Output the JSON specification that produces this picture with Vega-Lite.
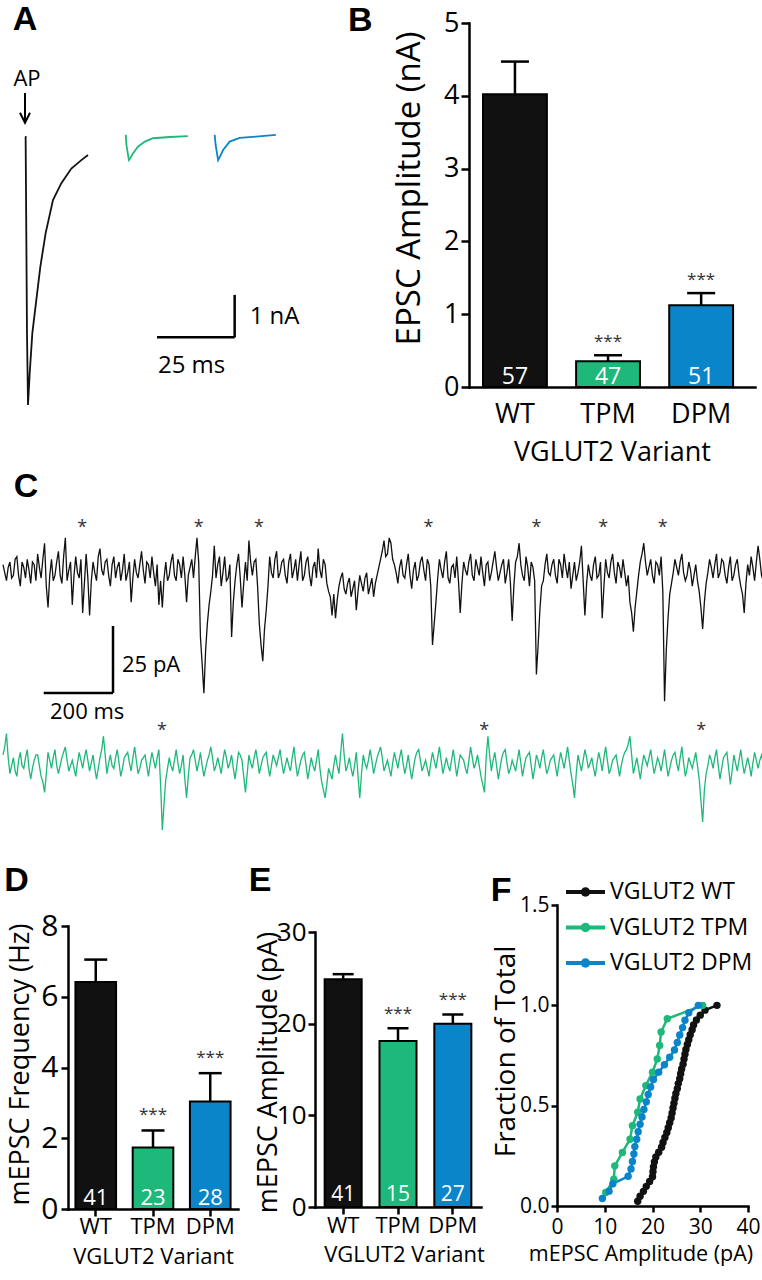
{
"$schema":"https://vega.github.io/schema/vega-lite/v6.json",
"width":762,"height":1280,"padding":0,"background":"white",
"config":{"view":{"stroke":null},"axis":{"grid":false,"domainColor":"black","tickColor":"black","labelColor":"black","titleColor":"black","labelFont":"Open Sans","titleFont":"Open Sans","titleFontWeight":"normal","domainWidth":2.5,"tickWidth":2.5,"domainCap":"square"},"text":{"font":"Open Sans","color":"black"}},
"datasets":{
"epsc":[
{"cell":"WT","t":0,"i":0},{"cell":"WT","t":0.2,"i":0},{"cell":"WT","t":0.42,"i":-2.29},{"cell":"WT","t":0.64,"i":-4.67},{"cell":"WT","t":0.96,"i":-6.38},{"cell":"WT","t":1.5,"i":-5.63},{"cell":"WT","t":2.35,"i":-4.67},{"cell":"WT","t":3.63,"i":-3.88},{"cell":"WT","t":4.91,"i":-3.09},{"cell":"WT","t":6.62,"i":-2.29},{"cell":"WT","t":8.97,"i":-1.5},{"cell":"WT","t":11.65,"i":-1.1},{"cell":"WT","t":14.85,"i":-0.75},{"cell":"WT","t":18.06,"i":-0.55},{"cell":"WT","t":20.19,"i":-0.43},
{"cell":"TPM","t":32.3,"i":0.05},{"cell":"TPM","t":32.5,"i":-0.19},{"cell":"TPM","t":33.3,"i":-0.55},{"cell":"TPM","t":33.8,"i":-0.5},{"cell":"TPM","t":34.6,"i":-0.39},{"cell":"TPM","t":36.2,"i":-0.23},{"cell":"TPM","t":38.4,"i":-0.11},{"cell":"TPM","t":41.0,"i":-0.03},{"cell":"TPM","t":46.4,"i":0.0},{"cell":"TPM","t":52.2,"i":0.02},
{"cell":"DPM","t":60.8,"i":0.05},{"cell":"DPM","t":61.1,"i":-0.19},{"cell":"DPM","t":61.9,"i":-0.55},{"cell":"DPM","t":62.4,"i":-0.48},{"cell":"DPM","t":63.5,"i":-0.31},{"cell":"DPM","t":65.6,"i":-0.11},{"cell":"DPM","t":68.8,"i":-0.02},{"cell":"DPM","t":74.0,"i":0.01},{"cell":"DPM","t":80.4,"i":0.05}
],
"evoked":[
{"variant":"WT","mean":4.02,"hi":4.47,"n":"57","sig":""},
{"variant":"TPM","mean":0.355,"hi":0.436,"n":"47","sig":"***"},
{"variant":"DPM","mean":1.124,"hi":1.29,"n":"51","sig":"***"}
],
"freq":[
{"variant":"WT","mean":6.42,"hi":7.05,"n":"41","sig":""},
{"variant":"TPM","mean":1.74,"hi":2.22,"n":"23","sig":"***"},
{"variant":"DPM","mean":3.04,"hi":3.84,"n":"28","sig":"***"}
],
"amp":[
{"variant":"WT","mean":24.85,"hi":25.4,"n":"41","sig":""},
{"variant":"TPM","mean":18.1,"hi":19.5,"n":"15","sig":"***"},
{"variant":"DPM","mean":20.0,"hi":21.0,"n":"27","sig":"***"}
],
"stars":[
{"cell":"WT","t":229},{"cell":"WT","t":565},{"cell":"WT","t":739},{"cell":"WT","t":1228},{"cell":"WT","t":1540},{"cell":"WT","t":1733},{"cell":"WT","t":1905},
{"cell":"TPM","t":459},{"cell":"TPM","t":1389},{"cell":"TPM","t":2016}
],
"keys":[
{"g":"WT","label":"VGLUT2 WT"},{"g":"TPM","label":"VGLUT2 TPM"},{"g":"DPM","label":"VGLUT2 DPM"}
],
"cum":[
{"g":"WT","amp":16.9,"frac":0.024},{"g":"WT","amp":17.4,"frac":0.049},{"g":"WT","amp":18.1,"frac":0.073},{"g":"WT","amp":18.7,"frac":0.098},{"g":"WT","amp":19.4,"frac":0.122},{"g":"WT","amp":20.0,"frac":0.146},{"g":"WT","amp":20.1,"frac":0.171},{"g":"WT","amp":20.2,"frac":0.195},{"g":"WT","amp":20.4,"frac":0.22},{"g":"WT","amp":20.7,"frac":0.244},{"g":"WT","amp":21.3,"frac":0.268},{"g":"WT","amp":21.9,"frac":0.293},{"g":"WT","amp":22.2,"frac":0.317},{"g":"WT","amp":22.6,"frac":0.341},{"g":"WT","amp":23.0,"frac":0.366},{"g":"WT","amp":23.3,"frac":0.39},{"g":"WT","amp":23.6,"frac":0.415},{"g":"WT","amp":23.9,"frac":0.439},{"g":"WT","amp":24.1,"frac":0.463},{"g":"WT","amp":24.3,"frac":0.488},{"g":"WT","amp":24.5,"frac":0.512},{"g":"WT","amp":24.7,"frac":0.537},{"g":"WT","amp":24.9,"frac":0.561},{"g":"WT","amp":25.2,"frac":0.585},{"g":"WT","amp":25.4,"frac":0.61},{"g":"WT","amp":25.7,"frac":0.634},{"g":"WT","amp":25.9,"frac":0.659},{"g":"WT","amp":26.1,"frac":0.683},{"g":"WT","amp":26.4,"frac":0.707},{"g":"WT","amp":26.6,"frac":0.732},{"g":"WT","amp":26.8,"frac":0.756},{"g":"WT","amp":27.0,"frac":0.78},{"g":"WT","amp":27.3,"frac":0.805},{"g":"WT","amp":27.6,"frac":0.829},{"g":"WT","amp":27.9,"frac":0.854},{"g":"WT","amp":28.3,"frac":0.878},{"g":"WT","amp":28.6,"frac":0.902},{"g":"WT","amp":29.2,"frac":0.927},{"g":"WT","amp":30.0,"frac":0.951},{"g":"WT","amp":31.0,"frac":0.976},{"g":"WT","amp":33.5,"frac":1.0},
{"g":"TPM","amp":10.2,"frac":0.067},{"g":"TPM","amp":11.9,"frac":0.133},{"g":"TPM","amp":12.1,"frac":0.2},{"g":"TPM","amp":13.7,"frac":0.267},{"g":"TPM","amp":15.3,"frac":0.333},{"g":"TPM","amp":15.8,"frac":0.4},{"g":"TPM","amp":16.9,"frac":0.467},{"g":"TPM","amp":17.4,"frac":0.533},{"g":"TPM","amp":18.6,"frac":0.6},{"g":"TPM","amp":20.0,"frac":0.667},{"g":"TPM","amp":21.0,"frac":0.733},{"g":"TPM","amp":21.5,"frac":0.8},{"g":"TPM","amp":21.8,"frac":0.867},{"g":"TPM","amp":23.1,"frac":0.933},{"g":"TPM","amp":30.5,"frac":1.0},
{"g":"DPM","amp":9.5,"frac":0.037},{"g":"DPM","amp":10.9,"frac":0.074},{"g":"DPM","amp":11.7,"frac":0.111},{"g":"DPM","amp":14.9,"frac":0.148},{"g":"DPM","amp":15.5,"frac":0.185},{"g":"DPM","amp":15.8,"frac":0.222},{"g":"DPM","amp":16.1,"frac":0.259},{"g":"DPM","amp":16.3,"frac":0.296},{"g":"DPM","amp":16.7,"frac":0.333},{"g":"DPM","amp":17.0,"frac":0.37},{"g":"DPM","amp":17.4,"frac":0.407},{"g":"DPM","amp":17.8,"frac":0.444},{"g":"DPM","amp":18.2,"frac":0.481},{"g":"DPM","amp":18.7,"frac":0.519},{"g":"DPM","amp":19.1,"frac":0.556},{"g":"DPM","amp":19.6,"frac":0.593},{"g":"DPM","amp":20.2,"frac":0.63},{"g":"DPM","amp":21.3,"frac":0.667},{"g":"DPM","amp":22.5,"frac":0.704},{"g":"DPM","amp":23.6,"frac":0.741},{"g":"DPM","amp":24.6,"frac":0.778},{"g":"DPM","amp":25.2,"frac":0.815},{"g":"DPM","amp":25.7,"frac":0.852},{"g":"DPM","amp":26.3,"frac":0.889},{"g":"DPM","amp":26.8,"frac":0.926},{"g":"DPM","amp":27.6,"frac":0.963},{"g":"DPM","amp":29.6,"frac":1.0}
],
"mini":[
{"cell":"WT","t":0,"v":2},{"cell":"WT","t":10,"v":-4},{"cell":"WT","t":20,"v":3},{"cell":"WT","t":30,"v":-2},{"cell":"WT","t":40,"v":5},{"cell":"WT","t":50,"v":-6},{"cell":"WT","t":60,"v":1},{"cell":"WT","t":70,"v":4},{"cell":"WT","t":80,"v":-5},{"cell":"WT","t":90,"v":2},
{"cell":"WT","t":100,"v":6},{"cell":"WT","t":110,"v":-3},{"cell":"WT","t":120,"v":10},{"cell":"WT","t":130,"v":-14},{"cell":"WT","t":140,"v":4},{"cell":"WT","t":150,"v":-2},{"cell":"WT","t":160,"v":7},{"cell":"WT","t":170,"v":-5},{"cell":"WT","t":180,"v":12},{"cell":"WT","t":190,"v":0},
{"cell":"WT","t":200,"v":-13},{"cell":"WT","t":210,"v":5},{"cell":"WT","t":220,"v":-3},{"cell":"WT","t":230,"v":-16},{"cell":"WT","t":240,"v":6},{"cell":"WT","t":250,"v":-17},{"cell":"WT","t":260,"v":3},{"cell":"WT","t":270,"v":-4},{"cell":"WT","t":280,"v":8},{"cell":"WT","t":290,"v":-2},
{"cell":"WT","t":300,"v":4},{"cell":"WT","t":310,"v":-6},{"cell":"WT","t":320,"v":5},{"cell":"WT","t":330,"v":1},{"cell":"WT","t":340,"v":-4},{"cell":"WT","t":350,"v":6},{"cell":"WT","t":360,"v":-1},{"cell":"WT","t":370,"v":-12},{"cell":"WT","t":380,"v":4},{"cell":"WT","t":390,"v":-3},
{"cell":"WT","t":400,"v":7},{"cell":"WT","t":410,"v":-5},{"cell":"WT","t":420,"v":2},{"cell":"WT","t":430,"v":5},{"cell":"WT","t":440,"v":-6},{"cell":"WT","t":450,"v":-13},{"cell":"WT","t":460,"v":-14},{"cell":"WT","t":470,"v":3},{"cell":"WT","t":480,"v":-2},{"cell":"WT","t":490,"v":6},
{"cell":"WT","t":500,"v":-4},{"cell":"WT","t":510,"v":2},{"cell":"WT","t":520,"v":5},{"cell":"WT","t":530,"v":-12},{"cell":"WT","t":540,"v":1},{"cell":"WT","t":550,"v":-3},{"cell":"WT","t":560,"v":12},{"cell":"WT","t":570,"v":-25},{"cell":"WT","t":580,"v":-46},{"cell":"WT","t":590,"v":-20},
{"cell":"WT","t":600,"v":-8},{"cell":"WT","t":610,"v":9},{"cell":"WT","t":620,"v":2},{"cell":"WT","t":630,"v":-6},{"cell":"WT","t":640,"v":5},{"cell":"WT","t":650,"v":-3},{"cell":"WT","t":660,"v":-25},{"cell":"WT","t":670,"v":-4},{"cell":"WT","t":680,"v":6},{"cell":"WT","t":690,"v":-14},
{"cell":"WT","t":700,"v":3},{"cell":"WT","t":710,"v":11},{"cell":"WT","t":720,"v":-2},{"cell":"WT","t":730,"v":4},{"cell":"WT","t":740,"v":-20},{"cell":"WT","t":750,"v":-34},{"cell":"WT","t":760,"v":-15},{"cell":"WT","t":770,"v":5},{"cell":"WT","t":780,"v":-3},{"cell":"WT","t":790,"v":7},
{"cell":"WT","t":800,"v":-1},{"cell":"WT","t":810,"v":4},{"cell":"WT","t":820,"v":-5},{"cell":"WT","t":830,"v":6},{"cell":"WT","t":840,"v":0},{"cell":"WT","t":850,"v":-4},{"cell":"WT","t":860,"v":7},{"cell":"WT","t":870,"v":-2},{"cell":"WT","t":880,"v":5},{"cell":"WT","t":890,"v":-6},
{"cell":"WT","t":900,"v":3},{"cell":"WT","t":910,"v":8},{"cell":"WT","t":920,"v":-3},{"cell":"WT","t":930,"v":2},{"cell":"WT","t":940,"v":-8},{"cell":"WT","t":950,"v":-17},{"cell":"WT","t":960,"v":-18},{"cell":"WT","t":970,"v":-6},{"cell":"WT","t":980,"v":-1},{"cell":"WT","t":990,"v":-9},
{"cell":"WT","t":1000,"v":-3},{"cell":"WT","t":1010,"v":-7},{"cell":"WT","t":1020,"v":-15},{"cell":"WT","t":1030,"v":-2},{"cell":"WT","t":1040,"v":-8},{"cell":"WT","t":1050,"v":-1},{"cell":"WT","t":1060,"v":-6},{"cell":"WT","t":1070,"v":-10},{"cell":"WT","t":1080,"v":-2},{"cell":"WT","t":1090,"v":4},
{"cell":"WT","t":1100,"v":11},{"cell":"WT","t":1110,"v":6},{"cell":"WT","t":1120,"v":10},{"cell":"WT","t":1130,"v":2},{"cell":"WT","t":1140,"v":-5},{"cell":"WT","t":1150,"v":4},{"cell":"WT","t":1160,"v":-3},{"cell":"WT","t":1170,"v":6},{"cell":"WT","t":1180,"v":-7},{"cell":"WT","t":1190,"v":3},
{"cell":"WT","t":1200,"v":-2},{"cell":"WT","t":1210,"v":5},{"cell":"WT","t":1220,"v":-4},{"cell":"WT","t":1230,"v":2},{"cell":"WT","t":1240,"v":-28},{"cell":"WT","t":1250,"v":-12},{"cell":"WT","t":1260,"v":4},{"cell":"WT","t":1270,"v":-3},{"cell":"WT","t":1280,"v":7},{"cell":"WT","t":1290,"v":-5},
{"cell":"WT","t":1300,"v":2},{"cell":"WT","t":1310,"v":5},{"cell":"WT","t":1320,"v":-16},{"cell":"WT","t":1330,"v":3},{"cell":"WT","t":1340,"v":-2},{"cell":"WT","t":1350,"v":6},{"cell":"WT","t":1360,"v":-4},{"cell":"WT","t":1370,"v":1},{"cell":"WT","t":1380,"v":5},{"cell":"WT","t":1390,"v":-6},
{"cell":"WT","t":1400,"v":3},{"cell":"WT","t":1410,"v":-1},{"cell":"WT","t":1420,"v":7},{"cell":"WT","t":1430,"v":-4},{"cell":"WT","t":1440,"v":2},{"cell":"WT","t":1450,"v":-5},{"cell":"WT","t":1460,"v":4},{"cell":"WT","t":1470,"v":-19},{"cell":"WT","t":1480,"v":3},{"cell":"WT","t":1490,"v":10},
{"cell":"WT","t":1500,"v":-2},{"cell":"WT","t":1510,"v":5},{"cell":"WT","t":1520,"v":-6},{"cell":"WT","t":1530,"v":1},{"cell":"WT","t":1540,"v":-39},{"cell":"WT","t":1550,"v":-15},{"cell":"WT","t":1560,"v":-4},{"cell":"WT","t":1570,"v":6},{"cell":"WT","t":1580,"v":-2},{"cell":"WT","t":1590,"v":4},
{"cell":"WT","t":1600,"v":-5},{"cell":"WT","t":1610,"v":2},{"cell":"WT","t":1620,"v":6},{"cell":"WT","t":1630,"v":-3},{"cell":"WT","t":1640,"v":-7},{"cell":"WT","t":1650,"v":3},{"cell":"WT","t":1660,"v":-1},{"cell":"WT","t":1670,"v":9},{"cell":"WT","t":1680,"v":-17},{"cell":"WT","t":1690,"v":2},
{"cell":"WT","t":1700,"v":-4},{"cell":"WT","t":1710,"v":5},{"cell":"WT","t":1720,"v":-2},{"cell":"WT","t":1730,"v":-18},{"cell":"WT","t":1740,"v":4},{"cell":"WT","t":1750,"v":-3},{"cell":"WT","t":1760,"v":6},{"cell":"WT","t":1770,"v":-5},{"cell":"WT","t":1780,"v":1},{"cell":"WT","t":1790,"v":4},
{"cell":"WT","t":1800,"v":-6},{"cell":"WT","t":1810,"v":-12},{"cell":"WT","t":1820,"v":-23},{"cell":"WT","t":1830,"v":-8},{"cell":"WT","t":1840,"v":3},{"cell":"WT","t":1850,"v":10},{"cell":"WT","t":1860,"v":-2},{"cell":"WT","t":1870,"v":4},{"cell":"WT","t":1880,"v":-5},{"cell":"WT","t":1890,"v":2},
{"cell":"WT","t":1900,"v":5},{"cell":"WT","t":1910,"v":-49},{"cell":"WT","t":1920,"v":-18},{"cell":"WT","t":1930,"v":-5},{"cell":"WT","t":1940,"v":4},{"cell":"WT","t":1950,"v":-2},{"cell":"WT","t":1960,"v":6},{"cell":"WT","t":1970,"v":-4},{"cell":"WT","t":1980,"v":3},{"cell":"WT","t":1990,"v":-6},
{"cell":"WT","t":2000,"v":2},{"cell":"WT","t":2010,"v":-8},{"cell":"WT","t":2020,"v":-22},{"cell":"WT","t":2030,"v":-5},{"cell":"WT","t":2040,"v":4},{"cell":"WT","t":2050,"v":-3},{"cell":"WT","t":2060,"v":6},{"cell":"WT","t":2070,"v":-1},{"cell":"WT","t":2080,"v":3},{"cell":"WT","t":2090,"v":-5},
{"cell":"WT","t":2100,"v":5},{"cell":"WT","t":2110,"v":-2},{"cell":"WT","t":2120,"v":4},{"cell":"WT","t":2130,"v":-6},{"cell":"WT","t":2140,"v":-16},{"cell":"WT","t":2150,"v":2},{"cell":"WT","t":2160,"v":5},{"cell":"WT","t":2170,"v":-4},{"cell":"WT","t":2180,"v":9},{"cell":"WT","t":2190,"v":-2},{"cell":"WT","t":2200,"v":3},
{"cell":"WT","t":5,"v":-1},{"cell":"WT","t":15,"v":1},{"cell":"WT","t":25,"v":-3},{"cell":"WT","t":35,"v":4},{"cell":"WT","t":45,"v":-2},{"cell":"WT","t":55,"v":3},{"cell":"WT","t":65,"v":-3},{"cell":"WT","t":75,"v":0},{"cell":"WT","t":85,"v":3},{"cell":"WT","t":95,"v":-4},
{"cell":"WT","t":105,"v":1},{"cell":"WT","t":115,"v":4},{"cell":"WT","t":125,"v":-6},{"cell":"WT","t":135,"v":-2},{"cell":"WT","t":145,"v":-4},{"cell":"WT","t":155,"v":3},{"cell":"WT","t":165,"v":-2},{"cell":"WT","t":175,"v":5},{"cell":"WT","t":185,"v":-4},{"cell":"WT","t":195,"v":3},
{"cell":"WT","t":205,"v":-2},{"cell":"WT","t":215,"v":-1},{"cell":"WT","t":225,"v":4},{"cell":"WT","t":235,"v":-5},{"cell":"WT","t":245,"v":-3},{"cell":"WT","t":255,"v":-4},{"cell":"WT","t":265,"v":-1},{"cell":"WT","t":275,"v":5},{"cell":"WT","t":285,"v":0},{"cell":"WT","t":295,"v":3},
{"cell":"WT","t":305,"v":-2},{"cell":"WT","t":315,"v":2},{"cell":"WT","t":325,"v":-3},{"cell":"WT","t":335,"v":3},{"cell":"WT","t":345,"v":0},{"cell":"WT","t":355,"v":-4},{"cell":"WT","t":365,"v":3},{"cell":"WT","t":375,"v":-3},{"cell":"WT","t":385,"v":-1},{"cell":"WT","t":395,"v":2},
{"cell":"WT","t":405,"v":0},{"cell":"WT","t":415,"v":3},{"cell":"WT","t":425,"v":-3},{"cell":"WT","t":435,"v":-1},{"cell":"WT","t":445,"v":2},{"cell":"WT","t":455,"v":-4},{"cell":"WT","t":465,"v":-3},{"cell":"WT","t":475,"v":-4},{"cell":"WT","t":485,"v":3},{"cell":"WT","t":495,"v":-2},
{"cell":"WT","t":505,"v":4},{"cell":"WT","t":515,"v":-3},{"cell":"WT","t":525,"v":-2},{"cell":"WT","t":535,"v":-2},{"cell":"WT","t":545,"v":4},{"cell":"WT","t":555,"v":5},{"cell":"WT","t":565,"v":3},{"cell":"WT","t":575,"v":-35},{"cell":"WT","t":585,"v":-30},{"cell":"WT","t":595,"v":-13},
{"cell":"WT","t":605,"v":-2},{"cell":"WT","t":615,"v":-3},{"cell":"WT","t":625,"v":5},{"cell":"WT","t":635,"v":-1},{"cell":"WT","t":645,"v":-4},{"cell":"WT","t":655,"v":2},{"cell":"WT","t":665,"v":-12},{"cell":"WT","t":675,"v":2},{"cell":"WT","t":685,"v":-3},{"cell":"WT","t":695,"v":-5},
{"cell":"WT","t":705,"v":-4},{"cell":"WT","t":715,"v":3},{"cell":"WT","t":725,"v":3},{"cell":"WT","t":735,"v":-6},{"cell":"WT","t":745,"v":-28},{"cell":"WT","t":755,"v":-22},{"cell":"WT","t":765,"v":-6},{"cell":"WT","t":775,"v":-1},{"cell":"WT","t":785,"v":4},{"cell":"WT","t":795,"v":-3},
{"cell":"WT","t":805,"v":3},{"cell":"WT","t":815,"v":-2},{"cell":"WT","t":825,"v":3},{"cell":"WT","t":835,"v":-3},{"cell":"WT","t":845,"v":4},{"cell":"WT","t":855,"v":2},{"cell":"WT","t":865,"v":-4},{"cell":"WT","t":875,"v":3},{"cell":"WT","t":885,"v":-2},{"cell":"WT","t":895,"v":1},
{"cell":"WT","t":905,"v":-3},{"cell":"WT","t":915,"v":0},{"cell":"WT","t":925,"v":4},{"cell":"WT","t":935,"v":-5},{"cell":"WT","t":945,"v":-10},{"cell":"WT","t":955,"v":-9},{"cell":"WT","t":965,"v":-11},{"cell":"WT","t":975,"v":-3},{"cell":"WT","t":985,"v":-7},{"cell":"WT","t":995,"v":-5},
{"cell":"WT","t":1005,"v":-10},{"cell":"WT","t":1015,"v":-4},{"cell":"WT","t":1025,"v":-8},{"cell":"WT","t":1035,"v":-5},{"cell":"WT","t":1045,"v":-3},{"cell":"WT","t":1055,"v":-9},{"cell":"WT","t":1065,"v":-3},{"cell":"WT","t":1075,"v":-5},{"cell":"WT","t":1085,"v":1},{"cell":"WT","t":1095,"v":7},
{"cell":"WT","t":1105,"v":5},{"cell":"WT","t":1115,"v":12},{"cell":"WT","t":1125,"v":4},{"cell":"WT","t":1135,"v":-1},{"cell":"WT","t":1145,"v":1},{"cell":"WT","t":1155,"v":-2},{"cell":"WT","t":1165,"v":2},{"cell":"WT","t":1175,"v":-2},{"cell":"WT","t":1185,"v":0},{"cell":"WT","t":1195,"v":-4},
{"cell":"WT","t":1205,"v":3},{"cell":"WT","t":1215,"v":0},{"cell":"WT","t":1225,"v":4},{"cell":"WT","t":1235,"v":-6},{"cell":"WT","t":1245,"v":-20},{"cell":"WT","t":1255,"v":-3},{"cell":"WT","t":1265,"v":0},{"cell":"WT","t":1275,"v":3},{"cell":"WT","t":1285,"v":-3},{"cell":"WT","t":1295,"v":1},
{"cell":"WT","t":1305,"v":-3},{"cell":"WT","t":1315,"v":-4},{"cell":"WT","t":1325,"v":-5},{"cell":"WT","t":1335,"v":0},{"cell":"WT","t":1345,"v":3},{"cell":"WT","t":1355,"v":-2},{"cell":"WT","t":1365,"v":4},{"cell":"WT","t":1375,"v":-2},{"cell":"WT","t":1385,"v":-1},{"cell":"WT","t":1395,"v":2},
{"cell":"WT","t":1405,"v":-4},{"cell":"WT","t":1415,"v":3},{"cell":"WT","t":1425,"v":1},{"cell":"WT","t":1435,"v":-1},{"cell":"WT","t":1445,"v":4},{"cell":"WT","t":1455,"v":-1},{"cell":"WT","t":1465,"v":-5},{"cell":"WT","t":1475,"v":-6},{"cell":"WT","t":1485,"v":5},{"cell":"WT","t":1495,"v":2},
{"cell":"WT","t":1505,"v":-4},{"cell":"WT","t":1515,"v":1},{"cell":"WT","t":1525,"v":3},{"cell":"WT","t":1535,"v":-4},{"cell":"WT","t":1545,"v":-28},{"cell":"WT","t":1555,"v":-6},{"cell":"WT","t":1565,"v":2},{"cell":"WT","t":1575,"v":-1},{"cell":"WT","t":1585,"v":2},{"cell":"WT","t":1595,"v":-2},
{"cell":"WT","t":1605,"v":4},{"cell":"WT","t":1615,"v":-3},{"cell":"WT","t":1625,"v":1},{"cell":"WT","t":1635,"v":3},{"cell":"WT","t":1645,"v":-2},{"cell":"WT","t":1655,"v":-4},{"cell":"WT","t":1665,"v":3},{"cell":"WT","t":1675,"v":-4},{"cell":"WT","t":1685,"v":-5},{"cell":"WT","t":1695,"v":-2},
{"cell":"WT","t":1705,"v":2},{"cell":"WT","t":1715,"v":-3},{"cell":"WT","t":1725,"v":3},{"cell":"WT","t":1735,"v":-6},{"cell":"WT","t":1745,"v":-1},{"cell":"WT","t":1755,"v":3},{"cell":"WT","t":1765,"v":-1},{"cell":"WT","t":1775,"v":3},{"cell":"WT","t":1785,"v":-3},{"cell":"WT","t":1795,"v":-1},
{"cell":"WT","t":1805,"v":-2},{"cell":"WT","t":1815,"v":-16},{"cell":"WT","t":1825,"v":-14},{"cell":"WT","t":1835,"v":-2},{"cell":"WT","t":1845,"v":6},{"cell":"WT","t":1855,"v":3},{"cell":"WT","t":1865,"v":1},{"cell":"WT","t":1875,"v":-2},{"cell":"WT","t":1885,"v":3},{"cell":"WT","t":1895,"v":-2},
{"cell":"WT","t":1905,"v":-8},{"cell":"WT","t":1915,"v":-30},{"cell":"WT","t":1925,"v":-9},{"cell":"WT","t":1935,"v":-1},{"cell":"WT","t":1945,"v":1},{"cell":"WT","t":1955,"v":3},{"cell":"WT","t":1965,"v":-1},{"cell":"WT","t":1975,"v":-2},{"cell":"WT","t":1985,"v":0},{"cell":"WT","t":1995,"v":-2},
{"cell":"WT","t":2005,"v":-4},{"cell":"WT","t":2015,"v":-14},{"cell":"WT","t":2025,"v":-12},{"cell":"WT","t":2035,"v":-1},{"cell":"WT","t":2045,"v":1},{"cell":"WT","t":2055,"v":2},{"cell":"WT","t":2065,"v":-3},{"cell":"WT","t":2075,"v":4},{"cell":"WT","t":2085,"v":-2},{"cell":"WT","t":2095,"v":1},
{"cell":"WT","t":2105,"v":-4},{"cell":"WT","t":2115,"v":2},{"cell":"WT","t":2125,"v":-2},{"cell":"WT","t":2135,"v":-9},{"cell":"WT","t":2145,"v":-5},{"cell":"WT","t":2155,"v":-2},{"cell":"WT","t":2165,"v":1},{"cell":"WT","t":2175,"v":3},{"cell":"WT","t":2185,"v":4},{"cell":"WT","t":2195,"v":-4},
{"cell":"TPM","t":0,"v":3},{"cell":"TPM","t":10,"v":11},{"cell":"TPM","t":20,"v":-4},{"cell":"TPM","t":30,"v":2},{"cell":"TPM","t":40,"v":-5},{"cell":"TPM","t":50,"v":4},{"cell":"TPM","t":60,"v":-2},{"cell":"TPM","t":70,"v":5},{"cell":"TPM","t":80,"v":-6},{"cell":"TPM","t":90,"v":1},
{"cell":"TPM","t":100,"v":3},{"cell":"TPM","t":110,"v":-5},{"cell":"TPM","t":120,"v":-11},{"cell":"TPM","t":130,"v":4},{"cell":"TPM","t":140,"v":-2},{"cell":"TPM","t":150,"v":5},{"cell":"TPM","t":160,"v":-4},{"cell":"TPM","t":170,"v":2},{"cell":"TPM","t":180,"v":6},{"cell":"TPM","t":190,"v":-3},
{"cell":"TPM","t":200,"v":1},{"cell":"TPM","t":210,"v":-5},{"cell":"TPM","t":220,"v":4},{"cell":"TPM","t":230,"v":-2},{"cell":"TPM","t":240,"v":5},{"cell":"TPM","t":250,"v":-3},{"cell":"TPM","t":260,"v":3},{"cell":"TPM","t":270,"v":-6},{"cell":"TPM","t":280,"v":2},{"cell":"TPM","t":290,"v":10},
{"cell":"TPM","t":300,"v":-4},{"cell":"TPM","t":310,"v":3},{"cell":"TPM","t":320,"v":-2},{"cell":"TPM","t":330,"v":5},{"cell":"TPM","t":340,"v":-5},{"cell":"TPM","t":350,"v":2},{"cell":"TPM","t":360,"v":4},{"cell":"TPM","t":370,"v":-3},{"cell":"TPM","t":380,"v":6},{"cell":"TPM","t":390,"v":-4},
{"cell":"TPM","t":400,"v":1},{"cell":"TPM","t":410,"v":3},{"cell":"TPM","t":420,"v":-5},{"cell":"TPM","t":430,"v":4},{"cell":"TPM","t":440,"v":-2},{"cell":"TPM","t":450,"v":5},{"cell":"TPM","t":460,"v":-25},{"cell":"TPM","t":470,"v":-6},{"cell":"TPM","t":480,"v":2},{"cell":"TPM","t":490,"v":-3},
{"cell":"TPM","t":500,"v":5},{"cell":"TPM","t":510,"v":-4},{"cell":"TPM","t":520,"v":3},{"cell":"TPM","t":530,"v":-13},{"cell":"TPM","t":540,"v":2},{"cell":"TPM","t":550,"v":5},{"cell":"TPM","t":560,"v":-3},{"cell":"TPM","t":570,"v":4},{"cell":"TPM","t":580,"v":-5},{"cell":"TPM","t":590,"v":1},
{"cell":"TPM","t":600,"v":6},{"cell":"TPM","t":610,"v":-3},{"cell":"TPM","t":620,"v":2},{"cell":"TPM","t":630,"v":-4},{"cell":"TPM","t":640,"v":5},{"cell":"TPM","t":650,"v":-2},{"cell":"TPM","t":660,"v":3},{"cell":"TPM","t":670,"v":-6},{"cell":"TPM","t":680,"v":4},{"cell":"TPM","t":690,"v":1},
{"cell":"TPM","t":700,"v":-11},{"cell":"TPM","t":710,"v":3},{"cell":"TPM","t":720,"v":-2},{"cell":"TPM","t":730,"v":5},{"cell":"TPM","t":740,"v":-4},{"cell":"TPM","t":750,"v":2},{"cell":"TPM","t":760,"v":4},{"cell":"TPM","t":770,"v":-5},{"cell":"TPM","t":780,"v":3},{"cell":"TPM","t":790,"v":-1},
{"cell":"TPM","t":800,"v":5},{"cell":"TPM","t":810,"v":-4},{"cell":"TPM","t":820,"v":2},{"cell":"TPM","t":830,"v":-3},{"cell":"TPM","t":840,"v":6},{"cell":"TPM","t":850,"v":-5},{"cell":"TPM","t":860,"v":1},{"cell":"TPM","t":870,"v":4},{"cell":"TPM","t":880,"v":-6},{"cell":"TPM","t":890,"v":2},
{"cell":"TPM","t":900,"v":-3},{"cell":"TPM","t":910,"v":5},{"cell":"TPM","t":920,"v":-7},{"cell":"TPM","t":930,"v":-13},{"cell":"TPM","t":940,"v":-2},{"cell":"TPM","t":950,"v":-6},{"cell":"TPM","t":960,"v":3},{"cell":"TPM","t":970,"v":-4},{"cell":"TPM","t":980,"v":11},{"cell":"TPM","t":990,"v":-3},
{"cell":"TPM","t":1000,"v":2},{"cell":"TPM","t":1010,"v":-5},{"cell":"TPM","t":1020,"v":4},{"cell":"TPM","t":1030,"v":-13},{"cell":"TPM","t":1040,"v":3},{"cell":"TPM","t":1050,"v":-2},{"cell":"TPM","t":1060,"v":5},{"cell":"TPM","t":1070,"v":-4},{"cell":"TPM","t":1080,"v":2},{"cell":"TPM","t":1090,"v":6},
{"cell":"TPM","t":1100,"v":-3},{"cell":"TPM","t":1110,"v":1},{"cell":"TPM","t":1120,"v":-5},{"cell":"TPM","t":1130,"v":4},{"cell":"TPM","t":1140,"v":-2},{"cell":"TPM","t":1150,"v":5},{"cell":"TPM","t":1160,"v":-4},{"cell":"TPM","t":1170,"v":3},{"cell":"TPM","t":1180,"v":-6},{"cell":"TPM","t":1190,"v":2},
{"cell":"TPM","t":1200,"v":5},{"cell":"TPM","t":1210,"v":-3},{"cell":"TPM","t":1220,"v":1},{"cell":"TPM","t":1230,"v":-5},{"cell":"TPM","t":1240,"v":4},{"cell":"TPM","t":1250,"v":-2},{"cell":"TPM","t":1260,"v":6},{"cell":"TPM","t":1270,"v":-4},{"cell":"TPM","t":1280,"v":2},{"cell":"TPM","t":1290,"v":-3},
{"cell":"TPM","t":1300,"v":5},{"cell":"TPM","t":1310,"v":-5},{"cell":"TPM","t":1320,"v":3},{"cell":"TPM","t":1330,"v":1},{"cell":"TPM","t":1340,"v":-4},{"cell":"TPM","t":1350,"v":6},{"cell":"TPM","t":1360,"v":-2},{"cell":"TPM","t":1370,"v":3},{"cell":"TPM","t":1380,"v":-5},{"cell":"TPM","t":1390,"v":-11},
{"cell":"TPM","t":1400,"v":10},{"cell":"TPM","t":1410,"v":-3},{"cell":"TPM","t":1420,"v":4},{"cell":"TPM","t":1430,"v":-6},{"cell":"TPM","t":1440,"v":2},{"cell":"TPM","t":1450,"v":5},{"cell":"TPM","t":1460,"v":-4},{"cell":"TPM","t":1470,"v":1},{"cell":"TPM","t":1480,"v":-3},{"cell":"TPM","t":1490,"v":5},
{"cell":"TPM","t":1500,"v":-5},{"cell":"TPM","t":1510,"v":2},{"cell":"TPM","t":1520,"v":4},{"cell":"TPM","t":1530,"v":-6},{"cell":"TPM","t":1540,"v":3},{"cell":"TPM","t":1550,"v":-2},{"cell":"TPM","t":1560,"v":5},{"cell":"TPM","t":1570,"v":-4},{"cell":"TPM","t":1580,"v":1},{"cell":"TPM","t":1590,"v":3},
{"cell":"TPM","t":1600,"v":-5},{"cell":"TPM","t":1610,"v":4},{"cell":"TPM","t":1620,"v":-2},{"cell":"TPM","t":1630,"v":6},{"cell":"TPM","t":1640,"v":-4},{"cell":"TPM","t":1650,"v":-13},{"cell":"TPM","t":1660,"v":3},{"cell":"TPM","t":1670,"v":-3},{"cell":"TPM","t":1680,"v":5},{"cell":"TPM","t":1690,"v":-2},
{"cell":"TPM","t":1700,"v":2},{"cell":"TPM","t":1710,"v":-5},{"cell":"TPM","t":1720,"v":4},{"cell":"TPM","t":1730,"v":-3},{"cell":"TPM","t":1740,"v":6},{"cell":"TPM","t":1750,"v":-4},{"cell":"TPM","t":1760,"v":1},{"cell":"TPM","t":1770,"v":3},{"cell":"TPM","t":1780,"v":-5},{"cell":"TPM","t":1790,"v":2},
{"cell":"TPM","t":1800,"v":5},{"cell":"TPM","t":1810,"v":10},{"cell":"TPM","t":1820,"v":-4},{"cell":"TPM","t":1830,"v":2},{"cell":"TPM","t":1840,"v":-6},{"cell":"TPM","t":1850,"v":3},{"cell":"TPM","t":1860,"v":-1},{"cell":"TPM","t":1870,"v":5},{"cell":"TPM","t":1880,"v":-4},{"cell":"TPM","t":1890,"v":2},
{"cell":"TPM","t":1900,"v":-3},{"cell":"TPM","t":1910,"v":5},{"cell":"TPM","t":1920,"v":-5},{"cell":"TPM","t":1930,"v":1},{"cell":"TPM","t":1940,"v":4},{"cell":"TPM","t":1950,"v":-3},{"cell":"TPM","t":1960,"v":6},{"cell":"TPM","t":1970,"v":-5},{"cell":"TPM","t":1980,"v":2},{"cell":"TPM","t":1990,"v":-2},
{"cell":"TPM","t":2000,"v":4},{"cell":"TPM","t":2010,"v":-6},{"cell":"TPM","t":2020,"v":-22},{"cell":"TPM","t":2030,"v":-4},{"cell":"TPM","t":2040,"v":3},{"cell":"TPM","t":2050,"v":-2},{"cell":"TPM","t":2060,"v":5},{"cell":"TPM","t":2070,"v":-6},{"cell":"TPM","t":2080,"v":2},{"cell":"TPM","t":2090,"v":4},
{"cell":"TPM","t":2100,"v":-8},{"cell":"TPM","t":2110,"v":3},{"cell":"TPM","t":2120,"v":-3},{"cell":"TPM","t":2130,"v":5},{"cell":"TPM","t":2140,"v":-4},{"cell":"TPM","t":2150,"v":2},{"cell":"TPM","t":2160,"v":-5},{"cell":"TPM","t":2170,"v":4},{"cell":"TPM","t":2180,"v":-2},{"cell":"TPM","t":2190,"v":3},{"cell":"TPM","t":2200,"v":-1},
{"cell":"TPM","t":5,"v":6},{"cell":"TPM","t":15,"v":2},{"cell":"TPM","t":25,"v":-1},{"cell":"TPM","t":35,"v":-3},{"cell":"TPM","t":45,"v":1},{"cell":"TPM","t":55,"v":-1},{"cell":"TPM","t":65,"v":2},{"cell":"TPM","t":75,"v":-2},{"cell":"TPM","t":85,"v":-2},{"cell":"TPM","t":95,"v":3},
{"cell":"TPM","t":105,"v":-1},{"cell":"TPM","t":115,"v":-7},{"cell":"TPM","t":125,"v":-4},{"cell":"TPM","t":135,"v":1},{"cell":"TPM","t":145,"v":2},{"cell":"TPM","t":155,"v":-1},{"cell":"TPM","t":165,"v":-1},{"cell":"TPM","t":175,"v":4},{"cell":"TPM","t":185,"v":1},{"cell":"TPM","t":195,"v":-1},
{"cell":"TPM","t":205,"v":-2},{"cell":"TPM","t":215,"v":0},{"cell":"TPM","t":225,"v":1},{"cell":"TPM","t":235,"v":2},{"cell":"TPM","t":245,"v":1},{"cell":"TPM","t":255,"v":0},{"cell":"TPM","t":265,"v":-2},{"cell":"TPM","t":275,"v":-2},{"cell":"TPM","t":285,"v":5},{"cell":"TPM","t":295,"v":3},
{"cell":"TPM","t":305,"v":0},{"cell":"TPM","t":315,"v":-1},{"cell":"TPM","t":325,"v":2},{"cell":"TPM","t":335,"v":0},{"cell":"TPM","t":345,"v":-2},{"cell":"TPM","t":355,"v":3},{"cell":"TPM","t":365,"v":0},{"cell":"TPM","t":375,"v":2},{"cell":"TPM","t":385,"v":1},{"cell":"TPM","t":395,"v":-2},
{"cell":"TPM","t":405,"v":2},{"cell":"TPM","t":415,"v":-1},{"cell":"TPM","t":425,"v":0},{"cell":"TPM","t":435,"v":1},{"cell":"TPM","t":445,"v":2},{"cell":"TPM","t":455,"v":-8},{"cell":"TPM","t":465,"v":-15},{"cell":"TPM","t":475,"v":-2},{"cell":"TPM","t":485,"v":-1},{"cell":"TPM","t":495,"v":1},
{"cell":"TPM","t":505,"v":0},{"cell":"TPM","t":515,"v":-1},{"cell":"TPM","t":525,"v":-6},{"cell":"TPM","t":535,"v":-5},{"cell":"TPM","t":545,"v":3},{"cell":"TPM","t":555,"v":1},{"cell":"TPM","t":565,"v":0},{"cell":"TPM","t":575,"v":-1},{"cell":"TPM","t":585,"v":-2},{"cell":"TPM","t":595,"v":3},
{"cell":"TPM","t":605,"v":2},{"cell":"TPM","t":615,"v":-1},{"cell":"TPM","t":625,"v":-1},{"cell":"TPM","t":635,"v":1},{"cell":"TPM","t":645,"v":2},{"cell":"TPM","t":655,"v":0},{"cell":"TPM","t":665,"v":-2},{"cell":"TPM","t":675,"v":-1},{"cell":"TPM","t":685,"v":3},{"cell":"TPM","t":695,"v":-5},
{"cell":"TPM","t":705,"v":-4},{"cell":"TPM","t":715,"v":0},{"cell":"TPM","t":725,"v":2},{"cell":"TPM","t":735,"v":1},{"cell":"TPM","t":745,"v":-1},{"cell":"TPM","t":755,"v":3},{"cell":"TPM","t":765,"v":-1},{"cell":"TPM","t":775,"v":-1},{"cell":"TPM","t":785,"v":1},{"cell":"TPM","t":795,"v":2},
{"cell":"TPM","t":805,"v":0},{"cell":"TPM","t":815,"v":-1},{"cell":"TPM","t":825,"v":-1},{"cell":"TPM","t":835,"v":2},{"cell":"TPM","t":845,"v":0},{"cell":"TPM","t":855,"v":-2},{"cell":"TPM","t":865,"v":3},{"cell":"TPM","t":875,"v":-1},{"cell":"TPM","t":885,"v":-2},{"cell":"TPM","t":895,"v":-1},
{"cell":"TPM","t":905,"v":1},{"cell":"TPM","t":915,"v":-2},{"cell":"TPM","t":925,"v":-10},{"cell":"TPM","t":935,"v":-8},{"cell":"TPM","t":945,"v":-4},{"cell":"TPM","t":955,"v":-1},{"cell":"TPM","t":965,"v":-1},{"cell":"TPM","t":975,"v":4},{"cell":"TPM","t":985,"v":3},{"cell":"TPM","t":995,"v":-1},
{"cell":"TPM","t":1005,"v":-2},{"cell":"TPM","t":1015,"v":-1},{"cell":"TPM","t":1025,"v":-5},{"cell":"TPM","t":1035,"v":-4},{"cell":"TPM","t":1045,"v":0},{"cell":"TPM","t":1055,"v":1},{"cell":"TPM","t":1065,"v":1},{"cell":"TPM","t":1075,"v":-1},{"cell":"TPM","t":1085,"v":4},{"cell":"TPM","t":1095,"v":2},
{"cell":"TPM","t":1105,"v":-1},{"cell":"TPM","t":1115,"v":-2},{"cell":"TPM","t":1125,"v":0},{"cell":"TPM","t":1135,"v":1},{"cell":"TPM","t":1145,"v":2},{"cell":"TPM","t":1155,"v":0},{"cell":"TPM","t":1165,"v":-1},{"cell":"TPM","t":1175,"v":-2},{"cell":"TPM","t":1185,"v":-2},{"cell":"TPM","t":1195,"v":4},
{"cell":"TPM","t":1205,"v":1},{"cell":"TPM","t":1215,"v":-1},{"cell":"TPM","t":1225,"v":-2},{"cell":"TPM","t":1235,"v":0},{"cell":"TPM","t":1245,"v":1},{"cell":"TPM","t":1255,"v":2},{"cell":"TPM","t":1265,"v":1},{"cell":"TPM","t":1275,"v":-1},{"cell":"TPM","t":1285,"v":-1},{"cell":"TPM","t":1295,"v":1},
{"cell":"TPM","t":1305,"v":0},{"cell":"TPM","t":1315,"v":-1},{"cell":"TPM","t":1325,"v":2},{"cell":"TPM","t":1335,"v":-2},{"cell":"TPM","t":1345,"v":1},{"cell":"TPM","t":1355,"v":2},{"cell":"TPM","t":1365,"v":0},{"cell":"TPM","t":1375,"v":-1},{"cell":"TPM","t":1385,"v":-8},{"cell":"TPM","t":1395,"v":2},
{"cell":"TPM","t":1405,"v":3},{"cell":"TPM","t":1415,"v":1},{"cell":"TPM","t":1425,"v":-1},{"cell":"TPM","t":1435,"v":-2},{"cell":"TPM","t":1445,"v":4},{"cell":"TPM","t":1455,"v":0},{"cell":"TPM","t":1465,"v":-2},{"cell":"TPM","t":1475,"v":-1},{"cell":"TPM","t":1485,"v":1},{"cell":"TPM","t":1495,"v":0},
{"cell":"TPM","t":1505,"v":-1},{"cell":"TPM","t":1515,"v":3},{"cell":"TPM","t":1525,"v":-1},{"cell":"TPM","t":1535,"v":-2},{"cell":"TPM","t":1545,"v":1},{"cell":"TPM","t":1555,"v":2},{"cell":"TPM","t":1565,"v":0},{"cell":"TPM","t":1575,"v":-2},{"cell":"TPM","t":1585,"v":2},{"cell":"TPM","t":1595,"v":-1},
{"cell":"TPM","t":1605,"v":0},{"cell":"TPM","t":1615,"v":1},{"cell":"TPM","t":1625,"v":2},{"cell":"TPM","t":1635,"v":1},{"cell":"TPM","t":1645,"v":-8},{"cell":"TPM","t":1655,"v":-4},{"cell":"TPM","t":1665,"v":0},{"cell":"TPM","t":1675,"v":1},{"cell":"TPM","t":1685,"v":2},{"cell":"TPM","t":1695,"v":0},
{"cell":"TPM","t":1705,"v":-2},{"cell":"TPM","t":1715,"v":0},{"cell":"TPM","t":1725,"v":1},{"cell":"TPM","t":1735,"v":2},{"cell":"TPM","t":1745,"v":1},{"cell":"TPM","t":1755,"v":-2},{"cell":"TPM","t":1765,"v":2},{"cell":"TPM","t":1775,"v":-1},{"cell":"TPM","t":1785,"v":-1},{"cell":"TPM","t":1795,"v":4},
{"cell":"TPM","t":1805,"v":7},{"cell":"TPM","t":1815,"v":3},{"cell":"TPM","t":1825,"v":-1},{"cell":"TPM","t":1835,"v":-2},{"cell":"TPM","t":1845,"v":-1},{"cell":"TPM","t":1855,"v":1},{"cell":"TPM","t":1865,"v":2},{"cell":"TPM","t":1875,"v":0},{"cell":"TPM","t":1885,"v":-1},{"cell":"TPM","t":1895,"v":0},
{"cell":"TPM","t":1905,"v":1},{"cell":"TPM","t":1915,"v":0},{"cell":"TPM","t":1925,"v":-2},{"cell":"TPM","t":1935,"v":3},{"cell":"TPM","t":1945,"v":0},{"cell":"TPM","t":1955,"v":2},{"cell":"TPM","t":1965,"v":0},{"cell":"TPM","t":1975,"v":-2},{"cell":"TPM","t":1985,"v":0},{"cell":"TPM","t":1995,"v":1},
{"cell":"TPM","t":2005,"v":-1},{"cell":"TPM","t":2015,"v":-14},{"cell":"TPM","t":2025,"v":-10},{"cell":"TPM","t":2035,"v":-1},{"cell":"TPM","t":2045,"v":1},{"cell":"TPM","t":2055,"v":2},{"cell":"TPM","t":2065,"v":-1},{"cell":"TPM","t":2075,"v":-2},{"cell":"TPM","t":2085,"v":3},{"cell":"TPM","t":2095,"v":-2},
{"cell":"TPM","t":2105,"v":-3},{"cell":"TPM","t":2115,"v":0},{"cell":"TPM","t":2125,"v":1},{"cell":"TPM","t":2135,"v":0},{"cell":"TPM","t":2145,"v":-1},{"cell":"TPM","t":2155,"v":-1},{"cell":"TPM","t":2165,"v":0},{"cell":"TPM","t":2175,"v":1},{"cell":"TPM","t":2185,"v":1},{"cell":"TPM","t":2195,"v":0}
]
},
"resolve":{"scale":{"x":"independent","y":"independent"},"axis":{"x":"independent","y":"independent"}},
"layer":[
{"layer":[
 {"data":{"name":"epsc"},"mark":{"type":"line","strokeWidth":1.8},
  "encoding":{"x":{"field":"t","type":"quantitative","scale":{"domain":[0,100],"range":[22,334]},"axis":null},
   "y":{"field":"i","type":"quantitative","scale":{"domain":[-7,2],"range":[431,53]},"axis":null},
   "stroke":{"field":"cell","type":"nominal","scale":{"domain":["WT","TPM","DPM"],"range":["#111111","#1db87a","#0a85c9"]},"legend":null}}},
 {"data":{"values":[{}]},"mark":{"type":"rule","strokeWidth":2.5,"color":"black"},
  "encoding":{"x":{"datum":42.3,"type":"quantitative","scale":{"domain":[0,100],"range":[22,334]},"axis":null},"x2":{"datum":67.2},
   "y":{"datum":-4.77,"type":"quantitative","scale":{"domain":[-7,2],"range":[431,53]},"axis":null}}},
 {"data":{"values":[{}]},"mark":{"type":"rule","strokeWidth":2.5,"color":"black"},
  "encoding":{"x":{"datum":67.2,"type":"quantitative","scale":{"domain":[0,100],"range":[22,334]},"axis":null},
   "y":{"datum":-4.77,"type":"quantitative","scale":{"domain":[-7,2],"range":[431,53]},"axis":null},"y2":{"datum":-3.76}}},
 {"data":{"values":[{}]},"mark":{"type":"rule","strokeWidth":2,"color":"black"},
  "encoding":{"x":{"datum":0,"type":"quantitative","scale":{"domain":[0,100],"range":[22,334]},"axis":null},
   "y":{"datum":1.05,"type":"quantitative","scale":{"domain":[-7,2],"range":[431,53]},"axis":null},"y2":{"datum":0.36}}},
 {"data":{"values":[{}]},"mark":{"type":"point","shape":"M-1,-2L0,0L1,-2","filled":false,"size":100,"strokeWidth":2,"color":"black","opacity":1},
  "encoding":{"x":{"datum":0,"type":"quantitative","scale":{"domain":[0,100],"range":[22,334]},"axis":null},
   "y":{"datum":0.34,"type":"quantitative","scale":{"domain":[-7,2],"range":[431,53]},"axis":null}}},
 {"data":{"values":[{}]},"mark":{"type":"text","text":"AP","fontSize":22,"align":"center","baseline":"middle"},
  "encoding":{"x":{"datum":0.64,"type":"quantitative","scale":{"domain":[0,100],"range":[22,334]},"axis":null},
   "y":{"datum":1.37,"type":"quantitative","scale":{"domain":[-7,2],"range":[431,53]},"axis":null}}},
 {"data":{"values":[{}]},"mark":{"type":"text","text":"1 nA","fontSize":24,"align":"left","baseline":"middle"},
  "encoding":{"x":{"datum":72.0,"type":"quantitative","scale":{"domain":[0,100],"range":[22,334]},"axis":null},
   "y":{"datum":-4.28,"type":"quantitative","scale":{"domain":[-7,2],"range":[431,53]},"axis":null}}},
 {"data":{"values":[{}]},"mark":{"type":"text","text":"25 ms","fontSize":24,"align":"left","baseline":"middle"},
  "encoding":{"x":{"datum":42.6,"type":"quantitative","scale":{"domain":[0,100],"range":[22,334]},"axis":null},
   "y":{"datum":-5.45,"type":"quantitative","scale":{"domain":[-7,2],"range":[431,53]},"axis":null}}},
 {"data":{"values":[{}]},"mark":{"type":"text","text":"A","font":"Liberation Sans","fontWeight":"bold","fontSize":34,"align":"center","baseline":"middle"},
  "encoding":{"x":{"datum":0,"type":"quantitative","scale":{"domain":[0,100],"range":[22,334]},"axis":null},
   "y":{"datum":2.786,"type":"quantitative","scale":{"domain":[-7,2],"range":[431,53]},"axis":null}}},
 {"data":{"values":[{}]},"mark":{"type":"text","text":"B","font":"Liberation Sans","fontWeight":"bold","fontSize":34,"align":"center","baseline":"middle"},
  "encoding":{"x":{"datum":107.5,"type":"quantitative","scale":{"domain":[0,100],"range":[22,334]},"axis":null},
   "y":{"datum":2.77,"type":"quantitative","scale":{"domain":[-7,2],"range":[431,53]},"axis":null}}}
]},
{"data":{"name":"evoked"},"layer":[
 {"mark":{"type":"bar","stroke":"black","strokeWidth":2},
  "encoding":{"x":{"field":"variant","type":"nominal","scale":{"type":"band","domain":["WT","TPM","DPM"],"range":[466,752],"paddingInner":0.314,"paddingOuter":0.193,"align":0.39},
    "axis":{"orient":"bottom","offset":-893,"ticks":false,"labelAngle":0,"labelFontSize":27,"labelPadding":14,"title":"VGLUT2 Variant","titleFontSize":27,"titleX":609,"titleY":65,"titleBaseline":"middle"}},
   "y":{"field":"mean","type":"quantitative","scale":{"domain":[0,5],"range":[387,23],"nice":false},
    "axis":{"orient":"left","offset":-466,"values":[0,1,2,3,4,5],"format":"d","tickSize":8,"labelFontSize":27,"labelPadding":2,"title":"EPSC Amplitude (nA)","titleFontSize":33,"titleX":-60,"titleY":188,"titleBaseline":"middle"}},
   "fill":{"field":"variant","type":"nominal","scale":{"domain":["WT","TPM","DPM"],"range":["#111111","#1db87a","#0a85c9"]},"legend":null}}},
 {"mark":{"type":"rule","strokeWidth":2.5,"color":"black"},
  "encoding":{"x":{"field":"variant","type":"nominal"},"y":{"field":"mean","type":"quantitative"},"y2":{"field":"hi"}}},
 {"mark":{"type":"tick","orient":"horizontal","size":28,"thickness":2.5,"color":"black","opacity":1},
  "encoding":{"x":{"field":"variant","type":"nominal"},"y":{"field":"hi","type":"quantitative"}}},
 {"mark":{"type":"text","color":"white","fontSize":23,"baseline":"middle","dy":-10},
  "encoding":{"x":{"field":"variant","type":"nominal"},"y":{"datum":0,"type":"quantitative"},"text":{"field":"n"}}},
 {"mark":{"type":"text","color":"#333333","fontSize":17,"baseline":"middle","dy":-13.5},
  "encoding":{"x":{"field":"variant","type":"nominal"},"y":{"field":"hi","type":"quantitative"},"text":{"field":"sig"}}}
]},
{"layer":[
 {"data":{"name":"mini"},"transform":[{"filter":"datum.cell === 'WT'"}],"mark":{"type":"line","strokeWidth":1.3},
  "encoding":{"x":{"field":"t","type":"quantitative","scale":{"domain":[0,2200],"range":[0,762]},"axis":null},
   "y":{"field":"v","type":"quantitative","scale":{"domain":[-60,30],"range":[730.8,489.6]},"axis":null},
   "stroke":{"field":"cell","type":"nominal","scale":{"domain":["WT","TPM","DPM"],"range":["#111111","#1db87a","#0a85c9"]},"legend":null}}},
 {"data":{"name":"stars"},"transform":[{"filter":"datum.cell === 'WT'"}],"mark":{"type":"text","text":"*","fontSize":18,"color":"#333333","baseline":"middle"},
  "encoding":{"x":{"field":"t","type":"quantitative","scale":{"domain":[0,2200],"range":[0,762]},"axis":null},
   "y":{"datum":15.8,"type":"quantitative","scale":{"domain":[-60,30],"range":[730.8,489.6]},"axis":null}}},
 {"data":{"values":[{}]},"mark":{"type":"rule","strokeWidth":2.5,"color":"black"},
  "encoding":{"x":{"datum":117.5,"type":"quantitative","scale":{"domain":[0,2200],"range":[0,762]},"axis":null},"x2":{"datum":317.6},
   "y":{"datum":-45.9,"type":"quantitative","scale":{"domain":[-60,30],"range":[730.8,489.6]},"axis":null}}},
 {"data":{"values":[{}]},"mark":{"type":"rule","strokeWidth":2.5,"color":"black"},
  "encoding":{"x":{"datum":317.6,"type":"quantitative","scale":{"domain":[0,2200],"range":[0,762]},"axis":null},
   "y":{"datum":-45.9,"type":"quantitative","scale":{"domain":[-60,30],"range":[730.8,489.6]},"axis":null},"y2":{"datum":-20.9}}},
 {"data":{"values":[{}]},"mark":{"type":"text","text":"25 pA","fontSize":22,"align":"left","baseline":"middle"},
  "encoding":{"x":{"datum":343.6,"type":"quantitative","scale":{"domain":[0,2200],"range":[0,762]},"axis":null},
   "y":{"datum":-35.4,"type":"quantitative","scale":{"domain":[-60,30],"range":[730.8,489.6]},"axis":null}}},
 {"data":{"values":[{}]},"mark":{"type":"text","text":"200 ms","fontSize":22,"align":"left","baseline":"middle"},
  "encoding":{"x":{"datum":135.7,"type":"quantitative","scale":{"domain":[0,2200],"range":[0,762]},"axis":null},
   "y":{"datum":-53.0,"type":"quantitative","scale":{"domain":[-60,30],"range":[730.8,489.6]},"axis":null}}},
 {"data":{"values":[{}]},"mark":{"type":"text","text":"C","font":"Liberation Sans","fontWeight":"bold","fontSize":34,"align":"center","baseline":"middle"},
  "encoding":{"x":{"datum":66.4,"type":"quantitative","scale":{"domain":[0,2200],"range":[0,762]},"axis":null},
   "y":{"datum":31.0,"type":"quantitative","scale":{"domain":[-60,30],"range":[730.8,489.6]},"axis":null}}}
]},
{"layer":[
 {"data":{"name":"mini"},"transform":[{"filter":"datum.cell === 'TPM'"}],"mark":{"type":"line","strokeWidth":1.3},
  "encoding":{"x":{"field":"t","type":"quantitative","scale":{"domain":[0,2200],"range":[0,762]},"axis":null},
   "y":{"field":"v","type":"quantitative","scale":{"domain":[-30,20],"range":[843.4,709.4]},"axis":null},
   "stroke":{"field":"cell","type":"nominal","scale":{"domain":["WT","TPM","DPM"],"range":["#111111","#1db87a","#0a85c9"]},"legend":null}}},
 {"data":{"name":"stars"},"transform":[{"filter":"datum.cell === 'TPM'"}],"mark":{"type":"text","text":"*","fontSize":18,"color":"#333333","baseline":"middle"},
  "encoding":{"x":{"field":"t","type":"quantitative","scale":{"domain":[0,2200],"range":[0,762]},"axis":null},
   "y":{"datum":11.8,"type":"quantitative","scale":{"domain":[-30,20],"range":[843.4,709.4]},"axis":null}}},
 {"data":{"values":[{}]},"mark":{"type":"text","text":"D","font":"Liberation Sans","fontWeight":"bold","fontSize":34,"align":"center","baseline":"middle"},
  "encoding":{"x":{"datum":39,"type":"quantitative","scale":{"domain":[0,2200],"range":[0,762]},"axis":null},
   "y":{"datum":-44.0,"type":"quantitative","scale":{"domain":[-30,20],"range":[843.4,709.4]},"axis":null}}},
 {"data":{"values":[{}]},"mark":{"type":"text","text":"E","font":"Liberation Sans","fontWeight":"bold","fontSize":34,"align":"center","baseline":"middle"},
  "encoding":{"x":{"datum":742,"type":"quantitative","scale":{"domain":[0,2200],"range":[0,762]},"axis":null},
   "y":{"datum":-44.0,"type":"quantitative","scale":{"domain":[-30,20],"range":[843.4,709.4]},"axis":null}}},
 {"data":{"values":[{}]},"mark":{"type":"text","text":"F","font":"Liberation Sans","fontWeight":"bold","fontSize":34,"align":"center","baseline":"middle"},
  "encoding":{"x":{"datum":1438,"type":"quantitative","scale":{"domain":[0,2200],"range":[0,762]},"axis":null},
   "y":{"datum":-47.8,"type":"quantitative","scale":{"domain":[-30,20],"range":[843.4,709.4]},"axis":null}}}
]},
{"data":{"name":"freq"},"layer":[
 {"mark":{"type":"bar","stroke":"black","strokeWidth":2},
  "encoding":{"x":{"field":"variant","type":"nominal","scale":{"type":"band","domain":["WT","TPM","DPM"],"range":[65,235],"paddingInner":0.29,"paddingOuter":0.13,"align":0.5},
    "axis":{"orient":"bottom","offset":-71,"tickSize":7,"labelAngle":0,"labelFontSize":22,"labelPadding":0,"title":"VGLUT2 Variant","titleFontSize":22,"titleX":150,"titleY":47,"titleBaseline":"middle"}},
   "y":{"field":"mean","type":"quantitative","scale":{"domain":[0,8],"range":[1209,926],"nice":false},
    "axis":{"orient":"left","offset":-65,"values":[0,2,4,6,8],"format":"d","tickSize":7,"labelFontSize":30,"labelPadding":3,"title":"mEPSC Frequency (Hz)","titleFontSize":27,"titleX":-47.5,"titleY":1064,"titleBaseline":"middle"}},
   "fill":{"field":"variant","type":"nominal","scale":{"domain":["WT","TPM","DPM"],"range":["#111111","#1db87a","#0a85c9"]},"legend":null}}},
 {"mark":{"type":"rule","strokeWidth":2.5,"color":"black"},
  "encoding":{"x":{"field":"variant","type":"nominal"},"y":{"field":"mean","type":"quantitative"},"y2":{"field":"hi"}}},
 {"mark":{"type":"tick","orient":"horizontal","size":23,"thickness":2.5,"color":"black","opacity":1},
  "encoding":{"x":{"field":"variant","type":"nominal"},"y":{"field":"hi","type":"quantitative"}}},
 {"mark":{"type":"text","color":"white","fontSize":22,"baseline":"middle","dy":-11.5},
  "encoding":{"x":{"field":"variant","type":"nominal"},"y":{"datum":0,"type":"quantitative"},"text":{"field":"n"}}},
 {"mark":{"type":"text","color":"#333333","fontSize":17,"baseline":"middle","dy":-15.5},
  "encoding":{"x":{"field":"variant","type":"nominal"},"y":{"field":"hi","type":"quantitative"},"text":{"field":"sig"}}}
]},
{"data":{"name":"amp"},"layer":[
 {"mark":{"type":"bar","stroke":"black","strokeWidth":2},
  "encoding":{"x":{"field":"variant","type":"nominal","scale":{"type":"band","domain":["WT","TPM","DPM"],"range":[312,478],"paddingInner":0.325,"paddingOuter":0.176,"align":0.5},
    "axis":{"orient":"bottom","offset":-73,"tickSize":7,"labelAngle":0,"labelFontSize":22,"labelPadding":1,"title":"VGLUT2 Variant","titleFontSize":22,"titleX":401,"titleY":47,"titleBaseline":"middle"}},
   "y":{"field":"mean","type":"quantitative","scale":{"domain":[0,30],"range":[1207,932],"nice":false},
    "axis":{"orient":"left","offset":-312,"values":[0,10,20,30],"format":"d","tickSize":7,"labelFontSize":26,"labelPadding":2,"title":"mEPSC Amplitude (pA)","titleFontSize":27,"titleX":-47,"titleY":1072,"titleBaseline":"middle"}},
   "fill":{"field":"variant","type":"nominal","scale":{"domain":["WT","TPM","DPM"],"range":["#111111","#1db87a","#0a85c9"]},"legend":null}}},
 {"mark":{"type":"rule","strokeWidth":2.5,"color":"black"},
  "encoding":{"x":{"field":"variant","type":"nominal"},"y":{"field":"mean","type":"quantitative"},"y2":{"field":"hi"}}},
 {"mark":{"type":"tick","orient":"horizontal","size":21,"thickness":2.5,"color":"black","opacity":1},
  "encoding":{"x":{"field":"variant","type":"nominal"},"y":{"field":"hi","type":"quantitative"}}},
 {"mark":{"type":"text","color":"white","fontSize":21,"baseline":"middle","dy":-12.5},
  "encoding":{"x":{"field":"variant","type":"nominal"},"y":{"datum":0,"type":"quantitative"},"text":{"field":"n"}}},
 {"mark":{"type":"text","color":"#333333","fontSize":17,"baseline":"middle","dy":-14.5},
  "encoding":{"x":{"field":"variant","type":"nominal"},"y":{"field":"hi","type":"quantitative"},"text":{"field":"sig"}}}
]},
{"data":{"name":"cum"},"layer":[
 {"mark":{"type":"line","strokeWidth":2.5},
  "encoding":{"x":{"field":"amp","type":"quantitative","scale":{"domain":[0,40],"range":[554,745],"nice":false},
    "axis":{"orient":"bottom","offset":-74,"values":[0,10,20,30,40],"tickSize":6,"labelFontSize":21,"labelPadding":4,"labelFlush":false,"title":"mEPSC Amplitude (pA)","titleFontSize":21.5,"titleX":637.5,"titleY":48,"titleBaseline":"middle"}},
   "y":{"field":"frac","type":"quantitative","scale":{"domain":[0,1.5],"range":[1206,905],"nice":false},
    "axis":{"orient":"left","offset":-554,"values":[0,0.5,1,1.5],"format":".1f","tickSize":6,"labelFontSize":21,"labelPadding":2,"title":"Fraction of Total","titleFontSize":28,"titleX":-51,"titleY":1051,"titleBaseline":"middle"}},
   "color":{"field":"g","type":"nominal","scale":{"domain":["WT","TPM","DPM"],"range":["#111111","#1db87a","#0a85c9"]},"legend":null}}},
 {"mark":{"type":"point","filled":true,"size":55,"opacity":1},
  "encoding":{"x":{"field":"amp","type":"quantitative"},
   "y":{"field":"frac","type":"quantitative"},
   "color":{"field":"g","type":"nominal","scale":{"domain":["WT","TPM","DPM"],"range":["#111111","#1db87a","#0a85c9"]},"legend":null}}}
]},
{"data":{"name":"keys"},"layer":[
 {"mark":{"type":"rule","strokeWidth":4},
  "encoding":{"x":{"datum":0,"type":"quantitative","scale":{"domain":[0,1],"range":[563,602]},"axis":null},"x2":{"datum":1},
   "y":{"field":"g","type":"nominal","scale":{"type":"point","domain":["WT","TPM","DPM"],"range":[892,963],"padding":0},"axis":null},
   "color":{"field":"g","type":"nominal","scale":{"domain":["WT","TPM","DPM"],"range":["#111111","#1db87a","#0a85c9"]},"legend":null}}},
 {"mark":{"type":"point","filled":true,"size":90,"opacity":1},
  "encoding":{"x":{"datum":0.5,"type":"quantitative"},"y":{"field":"g","type":"nominal"},
   "color":{"field":"g","type":"nominal","scale":{"domain":["WT","TPM","DPM"],"range":["#111111","#1db87a","#0a85c9"]},"legend":null}}},
 {"mark":{"type":"text","fontSize":23,"align":"left","baseline":"middle","color":"black"},
  "encoding":{"x":{"datum":1.13,"type":"quantitative"},"y":{"field":"g","type":"nominal"},"text":{"field":"label"}}}
]}
]
}
